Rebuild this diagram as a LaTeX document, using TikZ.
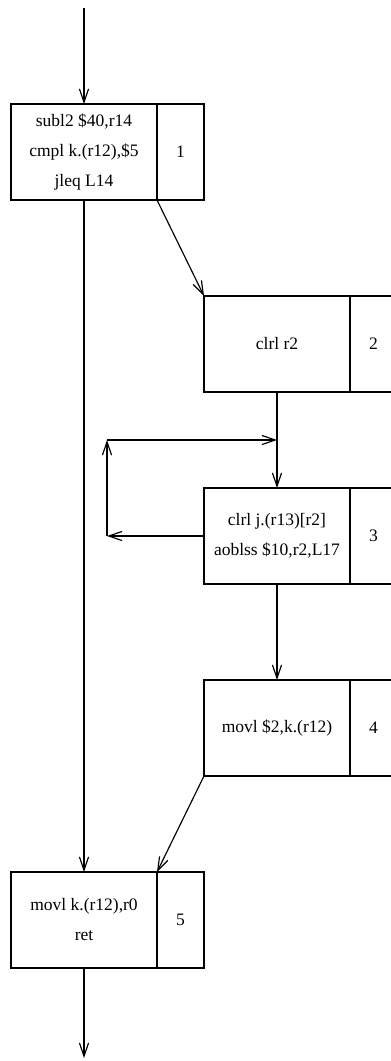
\documentclass[tikz,border=0pt]{standalone}
\usepackage{fontspec}
\setmainfont{Liberation Serif}
\usetikzlibrary{arrows.meta,positioning}
\tikzset{
  code/.style={draw,line width=0.7pt,minimum width=87.6pt,minimum height=57.6pt,inner sep=0pt,outer sep=0pt,align=center,font=\fontsize{10.5}{18}\selectfont},
  num/.style={draw,line width=0.7pt,minimum width=28.2pt,minimum height=57.6pt,inner sep=0pt,outer sep=0pt,font=\fontsize{10.5}{12}\selectfont},
  flow/.style={-{Straight Barb[length=8pt,width=5.5pt]},line width=0.7pt}
}
\begin{document}
\begin{tikzpicture}[x=0.6pt,y=-0.6pt]
\useasboundingbox (0,0) rectangle (390,1061);
% basic blocks
\node[code] (b1) at (84,152) {subl2 \$40,r14\\cmpl k.(r12),\$5\\jleq L14};
\node[num,right=0pt of b1] (n1) {1};
\node[code] (b2) at (277,344) {clrl r2};
\node[num,right=0pt of b2] (n2) {2};
\node[code] (b3) at (277,536) {clrl j.(r13)[r2]\\aoblss \$10,r2,L17};
\node[num,right=0pt of b3] (n3) {3};
\node[code] (b4) at (277,728) {movl \$2,k.(r12)};
\node[num,right=0pt of b4] (n4) {4};
\node[code] (b5) at (84,920) {movl k.(r12),r0\\ret};
\node[num,right=0pt of b5] (n5) {5};
% end points
\coordinate (in) at (84,8);
\coordinate (out) at (84,1058);
\coordinate (j) at (277,440);
\coordinate (c1) at (107,536);
\coordinate (c2) at (107,440);
% edges
\draw[flow] (in) -- (b1.north);
\draw[flow] (b1.south) -- (b5.north);
\draw[flow] (b1.south east) -- (b2.north west);
\draw[line width=0.7pt] (b2.south) -- (j);
\draw[flow] (j) -- (b3.north);
\draw[flow] (b3.west) -- (c1);
\draw[flow] (c1) -- (c2);
\draw[flow] (c2) -- (j);
\draw[flow] (b3.south) -- (b4.north);
\draw[flow] (b4.south west) -- (b5.north east);
\draw[flow] (b5.south) -- (out);
\end{tikzpicture}
\end{document}
